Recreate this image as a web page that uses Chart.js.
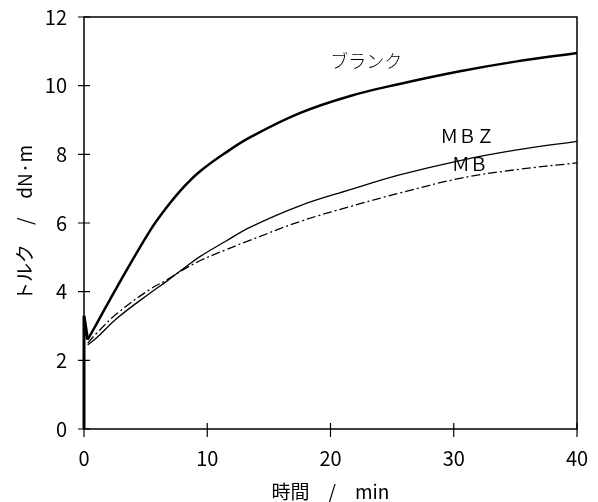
<!DOCTYPE html>
<html>
<head>
<meta charset="utf-8">
<script src="https://cdn.jsdelivr.net/npm/chart.js@4"></script>
<style>
html, body { margin: 0; padding: 0; background: #fff; }
</style>
</head>
<body>
<canvas id="torqueChart" width="598" height="502"></canvas>
<script>
// 時間 (min) と トルク (dN·m)
const timeMin     = [0.3,  1,    2.7,  5.4,  6.7,  8.1,  9.4,  11.5, 13.5, 17.5, 21.6, 25.6,  30.5,  35,   40];
const blankTorque = [2.6,  3.05, 4.15, 5.8,  6.45, 7.05, 7.5,  8.05, 8.5,  9.2,  9.7,  10.05, 10.42, 10.7, 10.95];
const mbzTorque   = [2.45, 2.65, 3.23, 3.97, 4.3,  4.68, 5.02, 5.47, 5.88, 6.5,  6.97, 7.4,   7.82,  8.12, 8.38];
const mbTorque    = [2.5,  2.78, 3.37, 4.08, 4.34, 4.65, 4.9,  5.22, 5.5,  6.04, 6.48, 6.87,  7.3,   7.55, 7.75];

// 立ち上がりのスパイク
const spikeTime   = [0, 0, 0.3];
const spikeTorque = [0, 3.3, 2.6];

const xTicks = [0, 10, 20, 30, 40];
const yTicks = [0, 2, 4, 6, 8, 10, 12];

// 曲線ラベル
const labelText   = ['ブランク', 'ＭＢＺ', 'ＭＢ'];
const labelTime   = [22.9, 31.1, 31.3];
const labelTorque = [10.7, 8.54, 7.71];
const labelFont   = ['300 18px "Noto Sans CJK JP"', '18px "Noto Sans CJK JP"', '18px "Noto Sans CJK JP"'];

const toPoints = (xs, ys) => xs.map((t, i) => ({ x: t, y: ys[i] }));

// 枠線・目盛り・ラベルを描く
const framePlugin = {
  id: 'frame',
  afterDatasetsDraw(chart) {
    const { ctx, chartArea: a, scales: { x, y } } = chart;
    ctx.save();
    ctx.strokeStyle = '#000';
    ctx.lineWidth = 1.5;
    ctx.strokeRect(a.left, a.top, a.right - a.left, a.bottom - a.top);

    ctx.lineWidth = 1.2;
    ctx.beginPath();
    yTicks.forEach(v => {
      const py = y.getPixelForValue(v);
      ctx.moveTo(a.left - 6, py);
      ctx.lineTo(a.left + 6, py);
    });
    xTicks.forEach(v => {
      const px = x.getPixelForValue(v);
      ctx.moveTo(px, a.bottom - 6);
      ctx.lineTo(px, a.bottom + 8);
    });
    ctx.stroke();

    ctx.fillStyle = '#000';
    ctx.textAlign = 'center';
    ctx.textBaseline = 'middle';
    labelText.forEach((txt, i) => {
      ctx.font = labelFont[i];
      ctx.fillText(txt, x.getPixelForValue(labelTime[i]), y.getPixelForValue(labelTorque[i]));
    });
    ctx.restore();
  }
};

const tickFont = { family: '"Noto Sans CJK JP"', size: 20 };

// ラベルのはみ出し分の余白を消して、枠を固定位置にする
const fixX = s => { s.height = 73; s.paddingLeft = 0; s.paddingRight = 0; };
const fixY = s => { s.width = 84; s.paddingTop = 0; s.paddingBottom = 0; };

new Chart(document.getElementById('torqueChart'), {
  type: 'line',
  data: {
    datasets: [
      {
        label: 'spike',
        data: toPoints(spikeTime, spikeTorque),
        borderColor: '#000',
        borderWidth: 3,
        pointRadius: 0,
        tension: 0,
        clip: false
      },
      {
        label: 'ブランク',
        data: toPoints(timeMin, blankTorque),
        borderColor: '#000',
        borderWidth: 2.5,
        pointRadius: 0,
        tension: 0.4,
        clip: false
      },
      {
        label: 'MBZ',
        data: toPoints(timeMin, mbzTorque),
        borderColor: '#000',
        borderWidth: 1.3,
        pointRadius: 0,
        tension: 0.4,
        clip: false
      },
      {
        label: 'MB',
        data: toPoints(timeMin, mbTorque),
        borderColor: '#000',
        borderWidth: 1.3,
        borderDash: [9, 3, 2, 3],
        pointRadius: 0,
        tension: 0.4,
        clip: false
      }
    ]
  },
  options: {
    responsive: false,
    animation: false,
    layout: { padding: { left: 0, right: 21, top: 17, bottom: 0 } },
    plugins: { legend: { display: false }, tooltip: { enabled: false } },
    scales: {
      x: {
        type: 'linear',
        min: 0,
        max: 40,
        grid: { display: false, drawTicks: false },
        border: { display: false },
        afterBuildTicks: s => { s.ticks = xTicks.map(v => ({ value: v })); },
        afterFit: fixX,
        ticks: { color: '#000', font: tickFont, padding: 17, maxRotation: 0 },
        title: {
          display: true,
          text: '時間　/　min',
          color: '#000',
          font: { family: '"Noto Sans CJK JP"', size: 19, lineHeight: 1 },
          padding: { top: 0, bottom: 1 }
        }
      },
      y: {
        type: 'linear',
        min: 0,
        max: 12,
        grid: { display: false, drawTicks: false },
        border: { display: false },
        afterBuildTicks: s => { s.ticks = yTicks.map(v => ({ value: v })); },
        afterFit: fixY,
        ticks: { color: '#000', font: tickFont, padding: 17 },
        title: {
          display: true,
          text: 'トルク　/　dN·m',
          color: '#000',
          font: { family: '"Noto Sans CJK JP"', size: 19, lineHeight: 1 },
          padding: { top: 15, bottom: 0 }
        }
      }
    }
  },
  plugins: [framePlugin]
});
</script>
</body>
</html>
